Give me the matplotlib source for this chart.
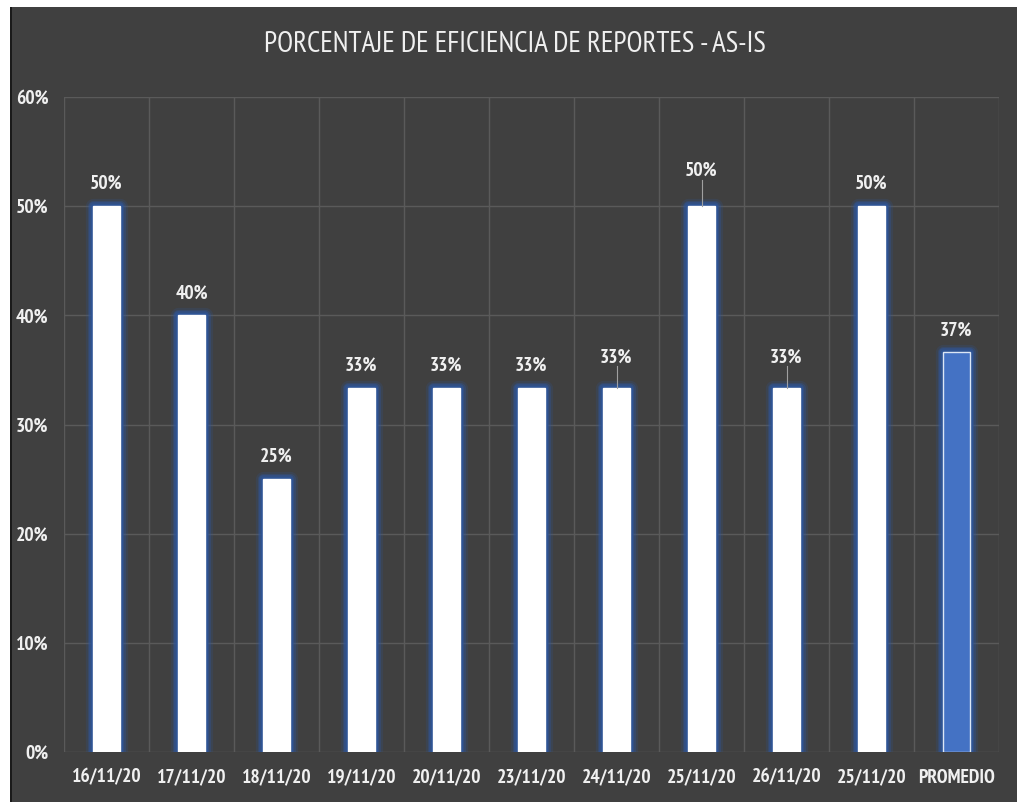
import matplotlib.pyplot as plt
from matplotlib import font_manager
from matplotlib.patches import Rectangle
from matplotlib.ticker import PercentFormatter

dates = ['16/11/20', '17/11/20', '18/11/20', '19/11/20', '20/11/20', '23/11/20',
         '24/11/20', '25/11/20', '26/11/20', '25/11/20', 'PROMEDIO']
values = [0.50, 0.40, 0.25, 1 / 3, 1 / 3, 1 / 3, 1 / 3, 0.50, 1 / 3, 0.50, 0.366]
labels = ['50%', '40%', '25%', '33%', '33%', '33%', '33%', '50%', '33%', '50%', '37%']
# extra lift of the data label (with leader line) for a few bars
lifts = [0, 0, 0, 0, 0, 0, 0.008, 0.012, 0.008, 0, 0]

BG = '#404040'

# narrow font like the original, if one is around
have = set(f.name for f in font_manager.fontManager.ttflist)
narrow = [n for n in ['PT Sans Narrow', 'Roboto Condensed', 'Fira Sans Condensed',
                      'Open Sans Condensed', 'Liberation Sans Narrow', 'Archivo Narrow',
                      'Asap Condensed', 'Encode Sans Condensed', 'Pragati Narrow']
          if n in have]
plt.rcParams['font.family'] = narrow[:1] + ['DejaVu Sans']

fig = plt.figure(figsize=(10.17, 8.02), dpi=100, facecolor=BG)
W, H = 1017, 802

# white screenshot margins + dark border line
fig.patches.append(Rectangle((0, 1 - 7 / H), 1, 7 / H, transform=fig.transFigure,
                             facecolor='white', edgecolor='none', zorder=0))
fig.patches.append(Rectangle((0, 0), 10 / W, 1, transform=fig.transFigure,
                             facecolor='white', edgecolor='none', zorder=0))
fig.patches.append(Rectangle((10 / W, 0), 2 / W, 1 - 7 / H, transform=fig.transFigure,
                             facecolor='#1a1a1a', edgecolor='none', zorder=0))

ax = fig.add_axes([64 / W, 50 / H, 935 / W, 655 / H])
ax.set_facecolor(BG)

x = range(len(dates))
colors = ['white'] * (len(dates) - 1) + ['#4472c4']
edges = ['white'] * (len(dates) - 1) + ['#dce6f5']

# soft blue glow around the bars
for lw, a in [(11, 0.2), (8, 0.35), (5.5, 0.6), (3.5, 0.9)]:
    ax.bar(x, values, width=0.32, color='none', edgecolor='#2f5597',
           linewidth=lw, alpha=a, zorder=2, joinstyle='round')
ax.bar(x, values, width=0.32, color=colors, edgecolor=edges, linewidth=1, zorder=3)

for i, (v, lab, up) in enumerate(zip(values, labels, lifts)):
    ax.text(i, v + 0.012 + up, lab, ha='center', va='bottom', color='#f0f0f0',
            fontsize=14, fontweight='bold')
    if up:
        ax.plot([i, i], [v, v + 0.012 + up], color='#a0a0a0', lw=0.8, zorder=4)

ax.set_xlim(-0.5, len(dates) - 0.5)
ax.set_ylim(0, 0.6)
ax.set_yticks([0, 0.1, 0.2, 0.3, 0.4, 0.5, 0.6])
ax.yaxis.set_major_formatter(PercentFormatter(1.0, decimals=0))
ax.set_xticks(list(x))
ax.set_xticklabels(dates)

ax.set_xticks([i - 0.5 for i in range(len(dates) + 1)], minor=True)
ax.grid(True, which='minor', axis='x', color='#5a5a5a', lw=1)
ax.grid(True, which='major', axis='y', color='#5a5a5a', lw=1)
ax.set_axisbelow(True)

ax.tick_params(axis='both', which='both', length=0, colors='#f0f0f0', labelsize=14)
ax.tick_params(axis='x', pad=12)
ax.tick_params(axis='y', pad=11)
for t in ax.get_xticklabels() + ax.get_yticklabels():
    t.set_fontweight('bold')
for s in ax.spines.values():
    s.set_visible(False)

fig.text(515 / W, 1 - 45 / H, 'PORCENTAJE DE EFICIENCIA DE REPORTES - AS-IS',
         ha='center', va='center', color='#f0f0f0', fontsize=21, fontweight='medium')

fig.savefig('out.png', dpi=100, facecolor=BG)
